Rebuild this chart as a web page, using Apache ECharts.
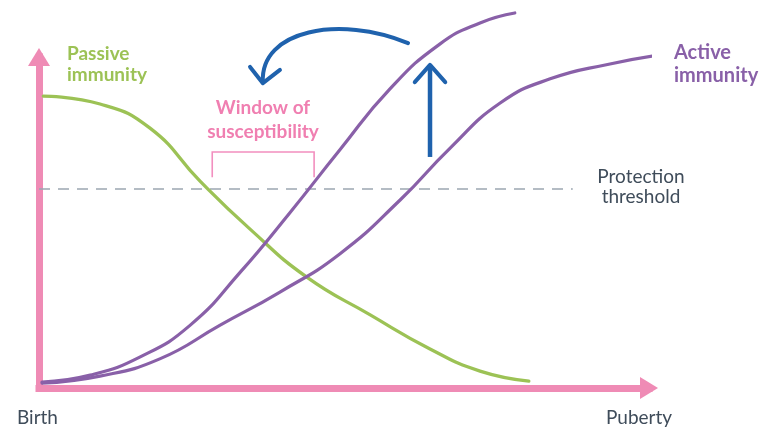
<!DOCTYPE html>
<html>
<head>
<meta charset="utf-8">
<script src="https://cdn.jsdelivr.net/npm/echarts@6/dist/echarts.min.js"></script>
<style>
html,body{margin:0;padding:0;background:#fff;}
#chart{width:769px;height:435px;}
</style>
</head>
<body>
<div id="chart"></div>
<script>
// Time from birth (0) to puberty (100) vs. immunity level (0-100, protection threshold ~60)
const passiveImmunity = [[0.7,88.2],[10.0,85.8],[18.2,78.5],[26.4,62.5],[34.6,48.0],[43.9,33.5],[54.3,22.1],[64.1,11.8],[72.3,5.1],[80.3,2.1]];
const activeVaccinated = [[0.5,1.8],[8.4,3.9],[16.6,9.4],[24.8,19.0],[33.0,35.0],[41.1,52.9],[49.3,71.9],[57.5,90.3],[65.7,103.9],[72.3,110.3],[78.0,113.3]];
const activeImmunity = [[0.5,1.5],[10.0,3.6],[19.8,8.8],[29.7,19.0],[39.5,29.0],[49.3,40.5],[59.2,56.8],[67.4,72.5],[75.6,86.1],[83.8,93.4],[93.6,97.9],[101.8,100.6]];
const protectionThreshold = 60.1;
const thresholdEnd = 87.5;
const windowStart = 28.4, windowEnd = 45.1;
const axisLabels = ['Birth', 'Puberty'];

const PINK = '#ef8bb5';
const GREEN = '#9cc255';
const PURPLE = '#8960a8';
const BLUE = '#1f62ad';
const FONT = 'Lato, "Open Sans", sans-serif';
const GREY = '#3f4c5a';

const chart = echarts.init(document.getElementById('chart'), null, {renderer: 'canvas'});

const bracket = [[windowStart, 63.7],[windowStart, 71.3],[windowEnd, 71.3],[windowEnd, 63.7]];
// curved arrow: start, control 1, control 2, end (data coordinates)
const curvedArrowPath = [[60.5,104.2],[49.3,112.7],[36.2,108.2],[36.7,92.4]];
const curvedHead = [[34.6,97.0],[36.7,92.1],[39.5,96.1]];
const upArrow = [[64.1,69.8],[64.1,97.4]];
const upHead = [[61.6,92.4],[64.1,97.6],[66.6,92.4]];

function lineSeries(data, color, width, smooth, extra) {
  return Object.assign({
    type: 'line', data: data, showSymbol: false, symbol: 'none', smooth: smooth,
    clip: false, silent: true, animation: false,
    lineStyle: {color: color, width: width, cap: 'round', join: 'round'}
  }, extra || {});
}

const texts = [
  {type: 'text', x: 67, y: 64, style: {text: 'Passive\nimmunity', fill: GREEN, font: 'bold 19px ' + FONT, lineHeight: 21, verticalAlign: 'middle'}},
  {type: 'text', x: 263, y: 120, style: {text: 'Window of\nsusceptibility', fill: '#f07fb1', font: 'bold 19px ' + FONT, lineHeight: 24, align: 'center', verticalAlign: 'middle'}},
  {type: 'text', x: 674, y: 64, style: {text: 'Active\nimmunity', fill: PURPLE, font: 'bold 20px ' + FONT, lineHeight: 23, verticalAlign: 'middle'}},
  {type: 'text', x: 641, y: 187, style: {text: 'Protection\nthreshold', fill: GREY, font: '19px ' + FONT, lineHeight: 20, align: 'center', verticalAlign: 'middle'}},
  {type: 'text', x: 17, y: 418, style: {text: axisLabels[0], fill: GREY, font: '19px ' + FONT, verticalAlign: 'middle'}},
  {type: 'text', x: 606, y: 418, style: {text: axisLabels[1], fill: GREY, font: '19px ' + FONT, verticalAlign: 'middle'}}
];

const option = {
  backgroundColor: '#ffffff',
  animation: false,
  grid: {left: 39, right: 120, top: 57, bottom: 47, containLabel: false},
  xAxis: {
    type: 'value', min: 0, max: 100,
    axisLine: {show: true, symbol: ['none', 'triangle'], symbolSize: [22, 18],
      lineStyle: {color: PINK, width: 7, cap: 'square'}},
    axisTick: {show: false}, axisLabel: {show: false}, splitLine: {show: false}
  },
  yAxis: {
    type: 'value', min: 0, max: 100,
    axisLine: {show: true, symbol: ['none', 'triangle'], symbolSize: [22, 18],
      lineStyle: {color: PINK, width: 7, cap: 'square'}},
    axisTick: {show: false}, axisLabel: {show: false}, splitLine: {show: false}
  },
  series: [
    lineSeries([[0, protectionThreshold],[thresholdEnd, protectionThreshold]], '#9ca7b1', 1.6, false,
      {lineStyle: {color: '#9ca7b1', width: 1.6, type: [11, 8]}}),
    lineSeries(bracket, '#f28fbf', 1.6, false, {lineStyle: {color: '#f28fbf', width: 1.6, cap: 'butt', join: 'miter'}}),
    lineSeries(passiveImmunity, GREEN, 3.3, 0.5),
    lineSeries(activeImmunity, PURPLE, 3.2, 0.5),
    lineSeries(activeVaccinated, PURPLE, 3.2, 0.5),
    lineSeries(curvedHead, BLUE, 4, false),
    lineSeries(upArrow, BLUE, 4.5, false, {lineStyle: {color: BLUE, width: 4.5, cap: 'butt'}}),
    lineSeries(upHead, BLUE, 4, false)
  ],
  graphic: texts
};
chart.setOption(option);

const p = curvedArrowPath.map(function (d) { return chart.convertToPixel({gridIndex: 0}, d); });
chart.setOption({
  graphic: texts.concat([{
    type: 'bezierCurve', silent: true,
    shape: {x1: p[0][0], y1: p[0][1], cpx1: p[1][0], cpy1: p[1][1], cpx2: p[2][0], cpy2: p[2][1], x2: p[3][0], y2: p[3][1]},
    style: {stroke: BLUE, lineWidth: 4, fill: null, lineCap: 'round'}
  }])
});
</script>
</body>
</html>
